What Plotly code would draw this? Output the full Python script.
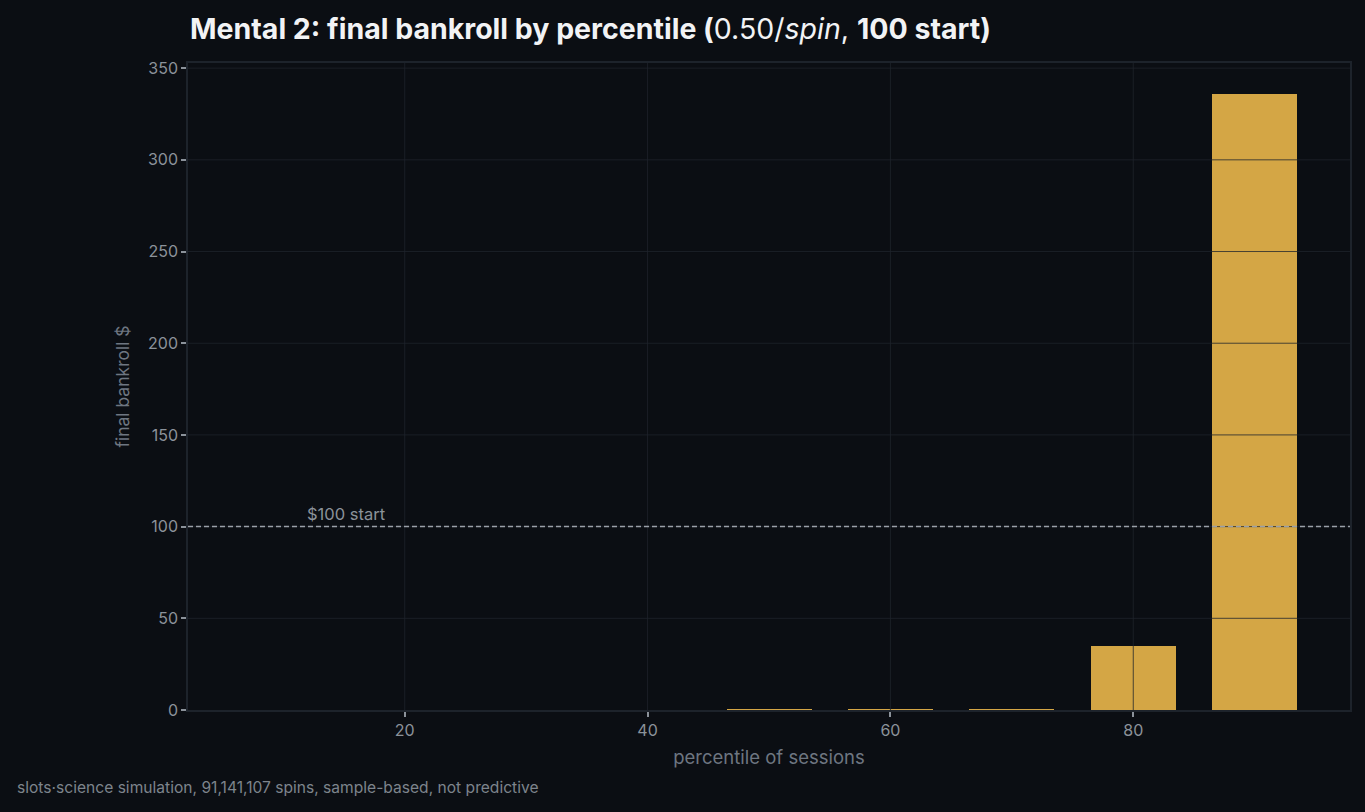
import plotly.graph_objects as go

percentiles = [10, 20, 30, 40, 50, 60, 70, 80, 90]
final_bankroll = [0.0, 0.0, 0.0, 0.0, 0.25, 0.3, 0.35, 34.9, 335.9]
x_ticks = [20, 40, 60, 80]
y_ticks = [0, 50, 100, 150, 200, 250, 300, 350]
start_bankroll = 100

BG = "#0b0e13"
BAR = "#d4a645"
GRID = "rgba(31,36,44,0.78)"
TICK = "#8b929a"
LABEL = "#6e7681"
SPINE = "#1d232b"

W, H = 1365, 812
ML, MR, MT, MB = 188, 15, 63, 102
PW, PH = W - ML - MR, H - MT - MB

fig = go.Figure()
fig.add_trace(go.Bar(
    x=percentiles, y=final_bankroll, width=7,
    marker=dict(color=BAR, line=dict(width=0)),
    hoverinfo="x+y", showlegend=False,
))

# grid lines drawn above the bars (as in the reference)
for yv in y_ticks[1:]:
    fig.add_shape(type="line", xref="paper", yref="y", x0=0, x1=1, y0=yv, y1=yv,
                  line=dict(color=GRID, width=1), layer="above")
for xv in x_ticks:
    fig.add_shape(type="line", xref="x", yref="paper", x0=xv, x1=xv, y0=0, y1=1,
                  line=dict(color=GRID, width=1), layer="above")

fig.add_shape(type="line", xref="paper", yref="y", x0=0, x1=1,
              y0=start_bankroll, y1=start_bankroll,
              line=dict(color="#9aa0a8", width=1.5, dash="5px,3px"), layer="above")
fig.add_annotation(x=11.8, y=start_bankroll, xref="x", yref="y",
                   text="$100 start", showarrow=False, xanchor="left",
                   yanchor="bottom", yshift=1,
                   font=dict(family="Inter", size=16.5, color="#8b929a"))

fig.add_annotation(x=(15 - ML) / PW, y=(H - MB - 788) / PH, xref="paper", yref="paper",
                   text="slots·science simulation, 91,141,107 spins, sample-based, not predictive",
                   showarrow=False, xanchor="left", yanchor="middle",
                   font=dict(family="Inter", size=15.6, color="#7d848c"))

fig.update_layout(
    width=W, height=H,
    paper_bgcolor=BG, plot_bgcolor=BG,
    margin=dict(l=ML, r=MR, t=MT, b=MB),
    bargap=0,
    title=dict(
        text="<b>Mental 2: final bankroll by percentile (</b>0.50/<i>spin</i>, <b>100 start)</b>",
        x=190 / W, xanchor="left", xref="container",
        y=1 - 29 / H, yanchor="middle", yref="container",
        font=dict(family="Inter", size=28.5, color="#f2f3f5"),
    ),
    font=dict(family="Inter", color=TICK),
    xaxis=dict(
        range=[2.15, 97.85], tickvals=x_ticks, ticks="outside", ticklen=5,
        tickwidth=1.5, tickcolor=TICK, tickfont=dict(size=16, color=TICK),
        showgrid=False, zeroline=False,
        showline=True, linecolor=SPINE, linewidth=1.5, mirror=True,
        layer="above traces",
        title=dict(text="percentile of sessions", standoff=12,
                   font=dict(size=18.5, color=LABEL)),
    ),
    yaxis=dict(
        range=[0, 352.8], tickvals=y_ticks, ticks="outside", ticklen=5,
        tickwidth=1.5, tickcolor=TICK, tickfont=dict(size=16, color=TICK),
        showgrid=False, zeroline=False,
        showline=True, linecolor=SPINE, linewidth=1.5, mirror=True,
        layer="above traces",
        title=dict(text="final bankroll $", standoff=14,
                   font=dict(size=17.5, color=LABEL)),
    ),
)

fig.write_html("out.html")
